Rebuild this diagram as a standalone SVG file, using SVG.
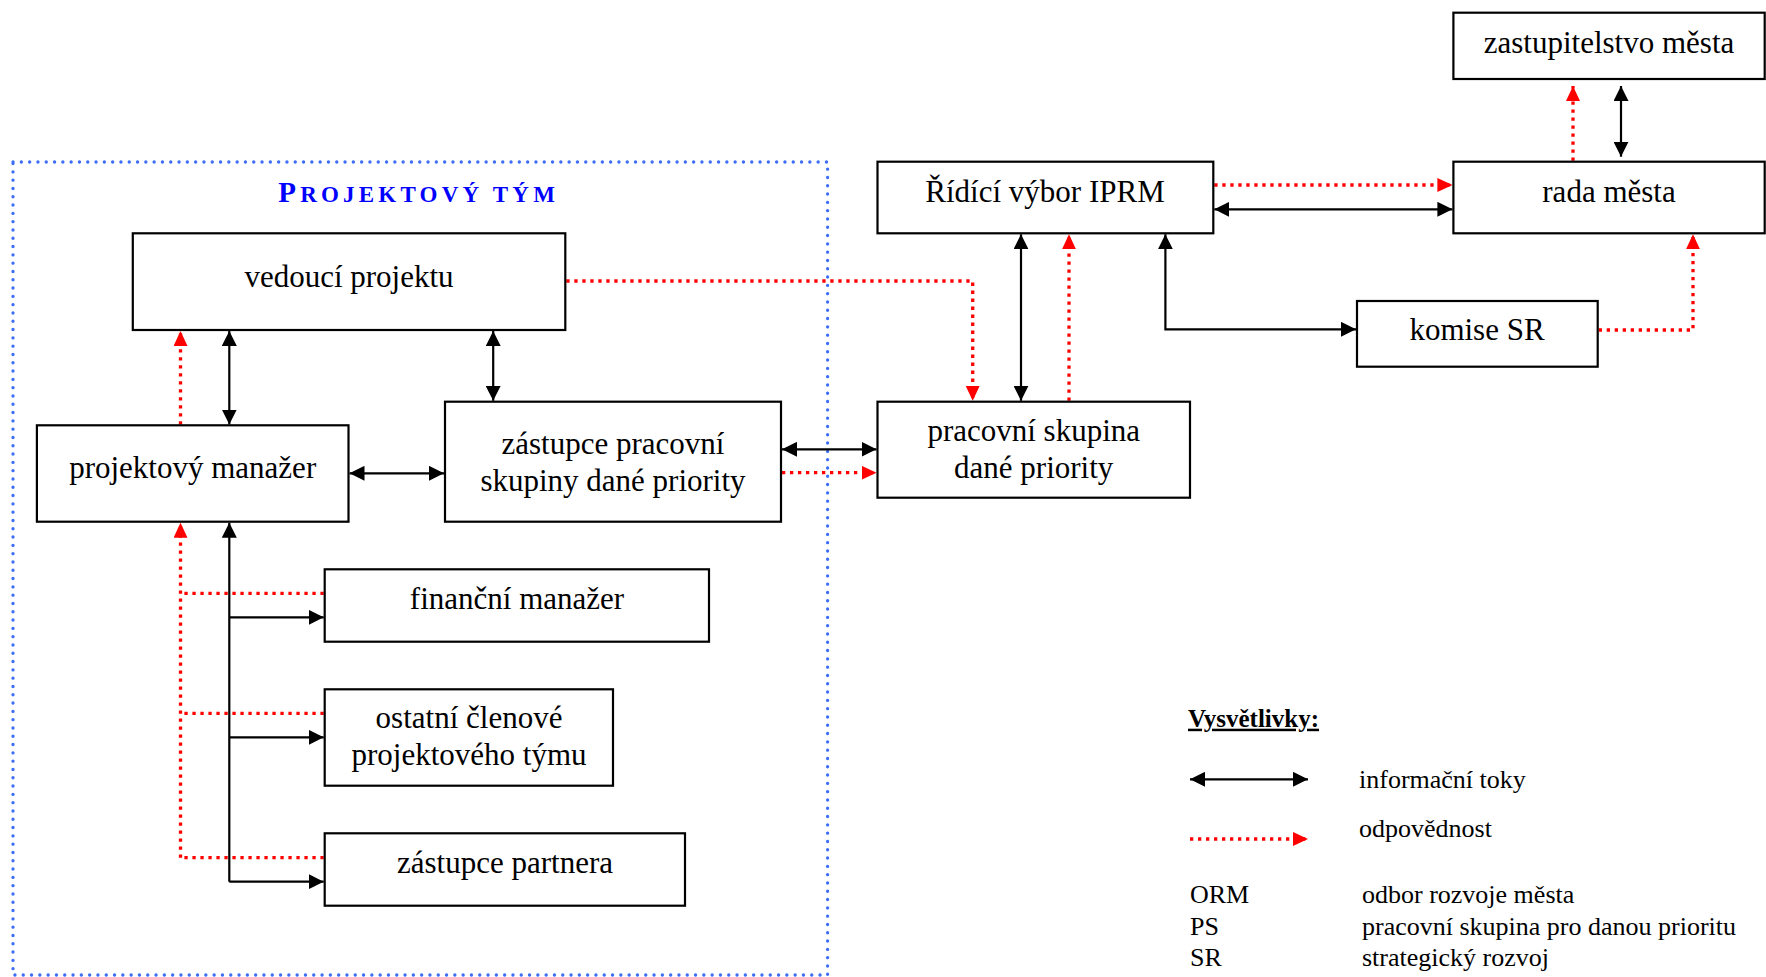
<svg xmlns="http://www.w3.org/2000/svg" width="1766" height="977" viewBox="0 0 1766 977">
<style>
.box{fill:#fff;stroke:#000;stroke-width:2.2}
.t{font-family:"Liberation Serif","Times New Roman",serif;font-size:31px;fill:#000;text-anchor:middle}
.lg{font-family:"Liberation Serif","Times New Roman",serif;font-size:26px;fill:#000}
.blk{fill:none;stroke:#000;stroke-width:2.2}
.red{fill:none;stroke:#ff0000;stroke-width:3.3;stroke-dasharray:3.3 4.7}
</style>
<defs>
<marker id="ab" viewBox="0 0 15 15" refX="15" refY="7.5" markerWidth="15" markerHeight="15" orient="auto-start-reverse" markerUnits="userSpaceOnUse"><path d="M0,0 L15,7.5 L0,15 z" fill="#000"/></marker>
<marker id="ar" viewBox="0 0 15 14" refX="15" refY="7" markerWidth="15" markerHeight="14" orient="auto" markerUnits="userSpaceOnUse"><path d="M0,0 L15,7 L0,14 z" fill="#ff0000"/></marker>
</defs>
<rect width="1766" height="977" fill="#fff"/>

<g id="team-frame">
<rect x="13" y="162" width="814.6" height="813" fill="none" stroke="#3d6ef5" stroke-width="3.3" stroke-dasharray="0.1 8.2" stroke-linecap="round"/>
<text x="278.3" y="201.7" font-family="'Liberation Serif','Times New Roman',serif" font-weight="bold" font-size="29" fill="#0000ff" letter-spacing="4.2">P<tspan font-size="23">ROJEKTOVÝ TÝM</tspan></text>
</g>

<g id="connectors">
<!-- black information flows -->
<line class="blk" x1="229.3" y1="331" x2="229.3" y2="424.5" marker-start="url(#ab)" marker-end="url(#ab)"/>
<line class="blk" x1="493.2" y1="331" x2="493.2" y2="400.8" marker-start="url(#ab)" marker-end="url(#ab)"/>
<line class="blk" x1="349.5" y1="473.3" x2="444" y2="473.3" marker-start="url(#ab)" marker-end="url(#ab)"/>
<line class="blk" x1="782" y1="449.3" x2="876.5" y2="449.3" marker-start="url(#ab)" marker-end="url(#ab)"/>
<line class="blk" x1="1021" y1="234.3" x2="1021" y2="400.8" marker-start="url(#ab)" marker-end="url(#ab)"/>
<line class="blk" x1="1214.3" y1="209.3" x2="1452.4" y2="209.3" marker-start="url(#ab)" marker-end="url(#ab)"/>
<line class="blk" x1="1621" y1="86" x2="1621" y2="156.7" marker-start="url(#ab)" marker-end="url(#ab)"/>
<path class="blk" d="M1165.4,234.3 V329.3 H1356" marker-start="url(#ab)" marker-end="url(#ab)"/>
<path class="blk" d="M229.3,522.7 V881.7" marker-start="url(#ab)"/>
<line class="blk" x1="229.3" y1="617.3" x2="323.7" y2="617.3" marker-end="url(#ab)"/>
<line class="blk" x1="229.3" y1="737.3" x2="323.7" y2="737.3" marker-end="url(#ab)"/>
<line class="blk" x1="229.3" y1="881.7" x2="323.7" y2="881.7" marker-end="url(#ab)"/>
<!-- red responsibility -->
<line class="red" x1="180.5" y1="424.5" x2="180.5" y2="331" marker-end="url(#ar)"/>
<path class="red" d="M566.3,281 H972.7 V400.8" marker-end="url(#ar)"/>
<line class="red" x1="782" y1="472.7" x2="876.5" y2="472.7" marker-end="url(#ar)"/>
<line class="red" x1="1069" y1="400.8" x2="1069" y2="234.3" marker-end="url(#ar)"/>
<line class="red" x1="1214.3" y1="185" x2="1452.4" y2="185" marker-end="url(#ar)"/>
<line class="red" x1="1573" y1="160.7" x2="1573" y2="86" marker-end="url(#ar)"/>
<path class="red" d="M1598.7,330 H1693 V234.3" marker-end="url(#ar)"/>
<path class="red" d="M180.5,857.7 V522.7" marker-end="url(#ar)"/>
<line class="red" x1="323.7" y1="593.3" x2="180.5" y2="593.3"/>
<line class="red" x1="323.7" y1="713.3" x2="180.5" y2="713.3"/>
<line class="red" x1="323.7" y1="857.7" x2="180.5" y2="857.7"/>
</g>

<g id="vedouci-projektu">
<rect class="box" x="132.8" y="233.3" width="432.5" height="96.7"/>
<text class="t" x="349" y="287">vedoucí projektu</text>
</g>
<g id="projektovy-manazer">
<rect class="box" x="36.9" y="425.3" width="311.6" height="96.4"/>
<text class="t" x="192.7" y="478">projektový manažer</text>
</g>
<g id="zastupce-ps">
<rect class="box" x="445" y="401.7" width="336" height="120"/>
<text class="t" x="613" y="454">zástupce pracovní</text>
<text class="t" x="613" y="491">skupiny dané priority</text>
</g>
<g id="financni-manazer">
<rect class="box" x="324.7" y="569.3" width="384.3" height="72.4"/>
<text class="t" x="517" y="609">finanční manažer</text>
</g>
<g id="ostatni-clenove">
<rect class="box" x="324.7" y="689.3" width="288.3" height="96.4"/>
<text class="t" x="469" y="728">ostatní členové</text>
<text class="t" x="469" y="765">projektového týmu</text>
</g>
<g id="zastupce-partnera">
<rect class="box" x="324.7" y="833.3" width="360.3" height="72.4"/>
<text class="t" x="505" y="873">zástupce partnera</text>
</g>
<g id="ridici-vybor">
<rect class="box" x="877.5" y="161.7" width="335.8" height="71.6"/>
<text class="t" x="1045" y="202">Řídící výbor IPRM</text>
</g>
<g id="pracovni-skupina">
<rect class="box" x="877.5" y="401.7" width="312.5" height="96"/>
<text class="t" x="1033.7" y="441">pracovní skupina</text>
<text class="t" x="1033.7" y="478">dané priority</text>
</g>
<g id="rada-mesta">
<rect class="box" x="1453.4" y="161.7" width="311.3" height="71.6"/>
<text class="t" x="1609" y="202">rada města</text>
</g>
<g id="zastupitelstvo">
<rect class="box" x="1453.4" y="12.7" width="311.3" height="66.3"/>
<text class="t" x="1609" y="53">zastupitelstvo města</text>
</g>
<g id="komise-sr">
<rect class="box" x="1357" y="301" width="240.7" height="65.7"/>
<text class="t" x="1477" y="340">komise SR</text>
</g>

<g id="legend">
<text x="1188" y="726.7" font-family="'Liberation Serif','Times New Roman',serif" font-weight="bold" font-size="25" text-decoration="underline" fill="#000">Vysvětlivky:</text>
<line class="blk" x1="1190" y1="779.3" x2="1308" y2="779.3" marker-start="url(#ab)" marker-end="url(#ab)"/>
<text class="lg" x="1359" y="787.7">informační toky</text>
<line class="red" x1="1190" y1="839" x2="1308" y2="839" marker-end="url(#ar)"/>
<text class="lg" x="1359" y="836.7">odpovědnost</text>
<text class="lg" x="1190" y="903">ORM</text>
<text class="lg" x="1362" y="903">odbor rozvoje města</text>
<text class="lg" x="1190" y="935">PS</text>
<text class="lg" x="1362" y="935">pracovní skupina pro danou prioritu</text>
<text class="lg" x="1190" y="966">SR</text>
<text class="lg" x="1362" y="966">strategický rozvoj</text>
</g>
</svg>
